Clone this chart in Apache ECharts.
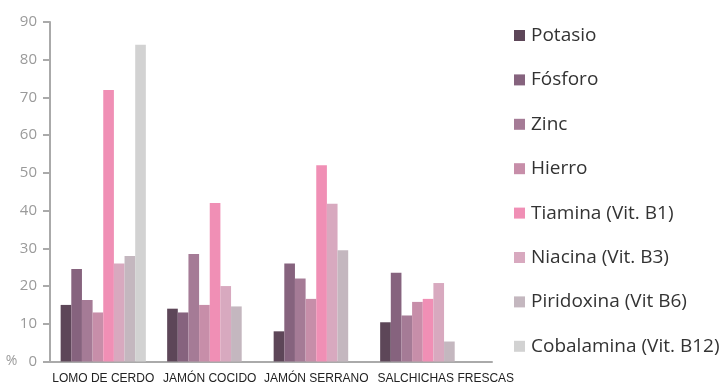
<!DOCTYPE html>
<html>
<head>
<meta charset="utf-8">
<script src="https://cdn.jsdelivr.net/npm/echarts@6/dist/echarts.min.js"></script>
<style>
  html, body { margin: 0; padding: 0; background: #ffffff; }
  #chart { width: 723px; height: 387px; }
</style>
</head>
<body>
<div id="chart"></div>
<script>
// Foods along the x axis
const categories = ['LOMO DE CERDO', 'JAMÓN COCIDO', 'JAMÓN SERRANO', 'SALCHICHAS FRESCAS'];

// % of daily intake per nutrient (null = not present)
const potasio    = [15, 14, 8, 10.4];
const fosforo    = [24.5, 13, 26, 23.5];
const zinc       = [16.3, 28.5, 22, 12.2];
const hierro     = [13, 15, 16.6, 15.8];
const tiamina    = [72, 42, 52, 16.6];
const niacina    = [26, 20, 41.8, 20.8];
const piridoxina = [28, 14.6, 29.5, 5.3];
const cobalamina = [84, null, null, null];

const seriesNames = ['Potasio', 'Fósforo', 'Zinc', 'Hierro', 'Tiamina (Vit. B1)', 'Niacina (Vit. B3)', 'Piridoxina (Vit B6)', 'Cobalamina (Vit. B12)'];
const seriesData = [potasio, fosforo, zinc, hierro, tiamina, niacina, piridoxina, cobalamina];
const seriesColors = ['#5d4658', '#86637e', '#a57b96', '#c78ea9', '#f08fb5', '#d8a9bf', '#c4b7bf', '#d2d2d2'];

const yTicks = { min: 0, max: 90, interval: 10 };

const chart = echarts.init(document.getElementById('chart'), null, { renderer: 'canvas' });

// the last food label sits a little right of its bar group
const categoryData = categories.map((c, i) =>
  i === categories.length - 1 ? { value: c, textStyle: { padding: [0, 0, 0, 46] } } : c
);

chart.setOption({
  animation: false,
  color: seriesColors,
  legend: {
    orient: 'vertical',
    left: 509,
    top: 21,
    itemWidth: 11,
    itemHeight: 11,
    itemGap: 25.4,
    icon: 'rect',
    textStyle: { fontFamily: 'Open Sans', fontSize: 19, color: '#333333', lineHeight: 16, padding: [0, 0, 0, 1] },
    data: seriesNames
  },
  grid: [
    { left: 50, top: 22, width: 426, bottom: 25.5, containLabel: false },
    { left: 50, top: 22, width: 442, bottom: 25.5, containLabel: false }
  ],
  xAxis: [
    {
      type: 'category',
      gridIndex: 0,
      data: categoryData,
      axisLine: { show: false },
      axisTick: { show: false },
      axisLabel: { fontFamily: 'Liberation Sans', fontSize: 12, color: '#222222', margin: 11, interval: 0 }
    },
    {
      // plain baseline running under the legend column
      type: 'value',
      gridIndex: 1,
      axisLine: { show: true, lineStyle: { color: '#aaaaaa', width: 2 } },
      axisTick: { show: false },
      axisLabel: { show: false },
      splitLine: { show: false }
    }
  ],
  yAxis: [
    {
      type: 'value',
      gridIndex: 0,
      min: yTicks.min,
      max: yTicks.max,
      interval: yTicks.interval,
      axisLine: { show: true, lineStyle: { color: '#aaaaaa', width: 2 } },
      axisTick: { show: true, length: 7, lineStyle: { color: '#aaaaaa', width: 2 } },
      splitLine: { show: false },
      axisLabel: {
        fontFamily: 'Open Sans',
        fontSize: 15,
        color: '#9a9a9a',
        margin: 13,
        formatter: v => (v === 0 ? '{p|%}{n|0}' : '{n|' + v + '}'),
        rich: {
          n: { fontFamily: 'Open Sans', fontSize: 15, color: '#9a9a9a' },
          p: { fontFamily: 'Open Sans', fontSize: 14, color: '#9a9a9a', padding: [0, 11, 0, 0] }
        }
      }
    },
    {
      type: 'value',
      gridIndex: 1,
      show: false
    }
  ],
  series: seriesNames.map((name, i) => ({
    name,
    type: 'bar',
    xAxisIndex: 0,
    yAxisIndex: 0,
    data: seriesData[i],
    barGap: '0%',
    barCategoryGap: '20%',
    itemStyle: { color: seriesColors[i] }
  }))
});
</script>
</body>
</html>
